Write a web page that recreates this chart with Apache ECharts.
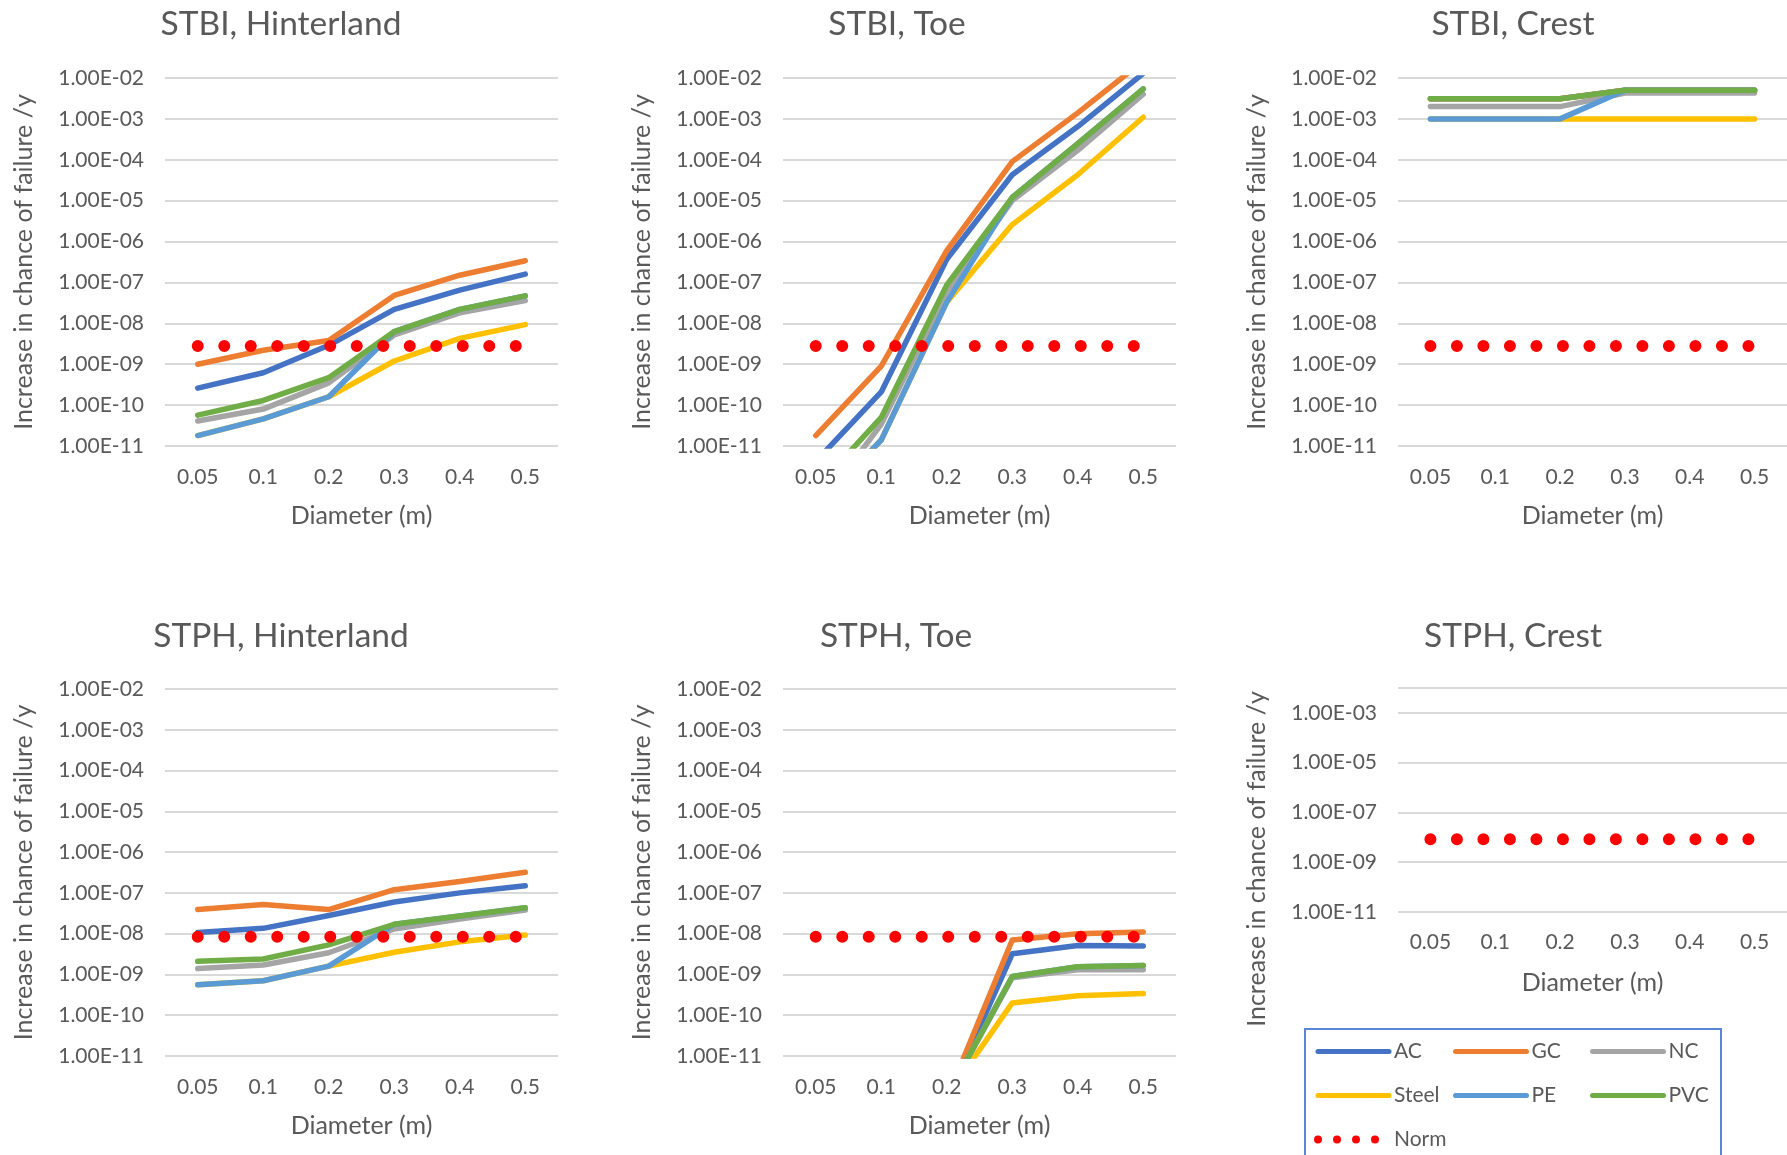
<!DOCTYPE html>
<html><head><meta charset="utf-8">
<script src="https://cdn.jsdelivr.net/npm/echarts@6/dist/echarts.min.js"></script>
<style>html,body{margin:0;padding:0;background:#fff}#c{width:1787px;height:1155px}</style>
</head><body><div id="c"></div>
<script>
// ---------- data ----------
const diameters = ['0.05', '0.1', '0.2', '0.3', '0.4', '0.5'];
const materials = ['AC', 'GC', 'NC', 'Steel', 'PE', 'PVC'];

// STBI, Hinterland
const stbiHinterAC    = [2.6e-10, 6.2e-10, 2.9e-9, 2.2e-8, 6.5e-8, 1.6e-7];
const stbiHinterGC    = [1.0e-9, 2.2e-9, 3.8e-9, 4.8e-8, 1.5e-7, 3.4e-7];
const stbiHinterNC    = [4.1e-11, 8.0e-11, 3.5e-10, 5.2e-9, 1.8e-8, 3.6e-8];
const stbiHinterSteel = [1.8e-11, 4.6e-11, 1.6e-10, 1.2e-9, 4.3e-9, 9.3e-9];
const stbiHinterPE    = [1.8e-11, 4.6e-11, 1.6e-10, 6.3e-9, 2.2e-8, 4.7e-8];
const stbiHinterPVC   = [5.7e-11, 1.3e-10, 4.7e-10, 6.3e-9, 2.2e-8, 4.7e-8];
// STBI, Toe
const stbiToeAC    = [4.2e-12, 2.1e-10, 3.7e-7, 4.3e-5, 6.5e-4, 1.3e-2];
const stbiToeGC    = [1.8e-11, 9.0e-10, 6.0e-7, 9.0e-5, 1.4e-3, 2.6e-2];
const stbiToeNC    = [2.5e-13, 3.4e-11, 5.9e-8, 1.0e-5, 1.7e-4, 4.0e-3];
const stbiToeSteel = [3.0e-13, 1.4e-11, 3.3e-8, 2.6e-6, 4.3e-5, 1.1e-3];
const stbiToePE    = [3.0e-13, 1.4e-11, 3.3e-8, 1.2e-5, 2.5e-4, 5.4e-3];
const stbiToePVC   = [9.0e-13, 5.0e-11, 8.7e-8, 1.2e-5, 2.5e-4, 5.4e-3];
// STBI, Crest
const stbiCrestAC    = [3.1e-3, 3.1e-3, 3.1e-3, 5.0e-3, 5.0e-3, 5.0e-3];
const stbiCrestGC    = [3.1e-3, 3.1e-3, 3.1e-3, 5.0e-3, 5.0e-3, 5.0e-3];
const stbiCrestNC    = [2.0e-3, 2.0e-3, 2.0e-3, 4.3e-3, 4.3e-3, 4.3e-3];
const stbiCrestSteel = [1.0e-3, 1.0e-3, 1.0e-3, 1.0e-3, 1.0e-3, 1.0e-3];
const stbiCrestPE    = [1.0e-3, 1.0e-3, 1.0e-3, 5.0e-3, 5.0e-3, 5.0e-3];
const stbiCrestPVC   = [3.1e-3, 3.1e-3, 3.1e-3, 5.0e-3, 5.0e-3, 5.0e-3];
// STPH, Hinterland
const stphHinterAC    = [1.07e-8, 1.35e-8, 2.8e-8, 6.0e-8, 1.0e-7, 1.5e-7];
const stphHinterGC    = [3.9e-8, 5.2e-8, 3.9e-8, 1.2e-7, 1.9e-7, 3.2e-7];
const stphHinterNC    = [1.4e-9, 1.7e-9, 3.4e-9, 1.3e-8, 2.3e-8, 3.8e-8];
const stphHinterSteel = [5.6e-10, 7.0e-10, 1.6e-9, 3.5e-9, 6.3e-9, 9.3e-9];
const stphHinterPE    = [5.6e-10, 7.0e-10, 1.6e-9, 1.7e-8, 2.7e-8, 4.3e-8];
const stphHinterPVC   = [2.1e-9, 2.4e-9, 5.3e-9, 1.7e-8, 2.7e-8, 4.3e-8];
// STPH, Toe
const stphToeAC    = [1e-14, 1e-13, 8e-13, 3.2e-9, 5.1e-9, 5.0e-9];
const stphToeGC    = [1e-14, 1e-13, 9e-13, 7.0e-9, 1.0e-8, 1.1e-8];
const stphToeNC    = [1e-14, 1e-13, 1e-12, 8.3e-10, 1.3e-9, 1.3e-9];
const stphToeSteel = [1e-14, 1e-13, 1e-12, 2.0e-10, 3.0e-10, 3.4e-10];
const stphToePE    = [1e-14, 1e-13, 1e-12, 8.9e-10, 1.55e-9, 1.65e-9];
const stphToePVC   = [1e-14, 1e-13, 1e-12, 8.9e-10, 1.55e-9, 1.65e-9];
// Norm
const normSTBI = [2.8e-9, 2.8e-9, 2.8e-9, 2.8e-9, 2.8e-9, 2.8e-9];
const normSTPH = [8.4e-9, 8.4e-9, 8.4e-9, 8.4e-9, 8.4e-9, 8.4e-9];

const titles = ['STBI, Hinterland', 'STBI, Toe', 'STBI, Crest', 'STPH, Hinterland', 'STPH, Toe', 'STPH, Crest'];
const yName = 'Increase in chance of failure /y';
const xName = 'Diameter (m)';

// ---------- styling ----------
const colors = { AC: '#4472C4', GC: '#ED7D31', NC: '#A5A5A5', Steel: '#FFC000', PE: '#5B9BD5', PVC: '#70AD47', Norm: '#FF0000' };
const FONT = 'Lato';
const TXT = '#595959';

const panels = [
  { data: [stbiHinterAC, stbiHinterGC, stbiHinterNC, stbiHinterSteel, stbiHinterPE, stbiHinterPVC], norm: normSTBI },
  { data: [stbiToeAC, stbiToeGC, stbiToeNC, stbiToeSteel, stbiToePE, stbiToePVC], norm: normSTBI },
  { data: [stbiCrestAC, stbiCrestGC, stbiCrestNC, stbiCrestSteel, stbiCrestPE, stbiCrestPVC], norm: normSTBI },
  { data: [stphHinterAC, stphHinterGC, stphHinterNC, stphHinterSteel, stphHinterPE, stphHinterPVC], norm: normSTPH },
  { data: [stphToeAC, stphToeGC, stphToeNC, stphToeSteel, stphToePE, stphToePVC], norm: normSTPH },
  { data: null, norm: normSTPH }
];

const grids = [
  { left: 165, top: 78, width: 393, height: 368 },
  { left: 783, top: 78, width: 393, height: 368 },
  { left: 1398, top: 78, width: 393, height: 368 },
  { left: 165, top: 689, width: 393, height: 367 },
  { left: 783, top: 689, width: 393, height: 367 },
  { left: 1398, top: 688, width: 393, height: 224 }
];
const titlePos = [[281, 24], [897, 24], [1513, 24], [281, 636], [896, 636], [1513, 636]];

function sci(v) {
  const e = Math.round(Math.log10(v));
  const m = v / Math.pow(10, e);
  const s = e < 0 ? '-' : '+';
  return m.toFixed(2) + 'E' + s + String(Math.abs(e)).padStart(2, '0');
}

const xAxes = [], yAxes = [], series = [];
grids.forEach((g, i) => {
  const crest2 = i === 5;
  xAxes.push({
    type: 'category', gridIndex: i, data: diameters, boundaryGap: true,
    axisLine: { show: false }, axisTick: { show: false },
    axisLabel: { color: TXT, fontFamily: FONT, fontSize: 21, margin: crest2 ? 20 : 21, interval: 0 },
    name: xName, nameLocation: 'middle', nameGap: crest2 ? 58 : 57,
    nameTextStyle: { color: TXT, fontFamily: FONT, fontSize: 25 }
  });
  yAxes.push({
    type: 'log', logBase: 10, gridIndex: i, min: 1e-11, max: 1e-2, interval: crest2 ? 2 : 1,
    axisLine: { show: false }, axisTick: { show: false },
    splitLine: { show: true, lineStyle: { color: '#d9d9d9', width: 2 } },
    axisLabel: { color: TXT, fontFamily: FONT, fontSize: 21, margin: 21, formatter: sci, showMaxLabel: !crest2 },
    name: yName, nameLocation: 'middle', nameRotate: 90, nameGap: 129,
    nameTextStyle: { color: TXT, fontFamily: FONT, fontSize: 25, padding: crest2 ? [0, 118, 0, 0] : 0 }
  });
  const p = panels[i];
  if (p.data) {
    p.data.forEach((arr, k) => {
      const nm = materials[k];
      series.push({
        type: 'line', name: nm, xAxisIndex: i, yAxisIndex: i, data: arr,
        symbol: 'none', silent: true, animation: false,
        itemStyle: { color: colors[nm] },
        lineStyle: { color: colors[nm], width: 5.5, cap: 'round', join: 'round' }
      });
    });
  }
  series.push({
    type: 'line', name: 'Norm', xAxisIndex: i, yAxisIndex: i, data: p.norm,
    symbol: 'none', silent: true, animation: false,
    itemStyle: { color: colors.Norm },
    lineStyle: { color: colors.Norm, width: 12, type: [0.001, 26.5], cap: 'round' }
  });
});

const legendBase = {
  orient: 'vertical', top: 1041, itemWidth: 71, itemHeight: 21, itemGap: 23, padding: 0,
  selectedMode: false, textStyle: { color: TXT, fontFamily: FONT, fontSize: 21 },
  itemStyle: { opacity: 0 },
  lineStyle: { width: 5, cap: 'round' }
};
const legends = [
  Object.assign({}, legendBase, { left: 1314, data: ['AC', 'Steel', { name: 'Norm', lineStyle: { width: 8, type: [0.001, 19], cap: 'round', color: '#FF0000' } }] }),
  Object.assign({}, legendBase, { left: 1453, data: ['GC', 'PE'] }),
  Object.assign({}, legendBase, { left: 1590, data: ['NC', 'PVC'] })
];

const option = {
  backgroundColor: '#ffffff',
  animation: false,
  textStyle: { fontFamily: FONT },
  title: titles.map((t, i) => ({
    text: t, left: titlePos[i][0], top: titlePos[i][1], textAlign: 'center', textVerticalAlign: 'middle', padding: 0,
    textStyle: { color: TXT, fontFamily: FONT, fontSize: 33.5, fontWeight: 'normal' }
  })),
  grid: grids.map(g => Object.assign({ containLabel: false }, g)),
  xAxis: xAxes,
  yAxis: yAxes,
  legend: legends,
  graphic: [{
    type: 'rect', z: -1, silent: true,
    shape: { x: 1305, y: 1029, width: 416, height: 140 },
    style: { fill: '#ffffff', stroke: '#5B86D6', lineWidth: 2 }
  }],
  series: series
};

const chart = echarts.init(document.getElementById('c'), null, { renderer: 'canvas' });
chart.setOption(option);
</script></body></html>
